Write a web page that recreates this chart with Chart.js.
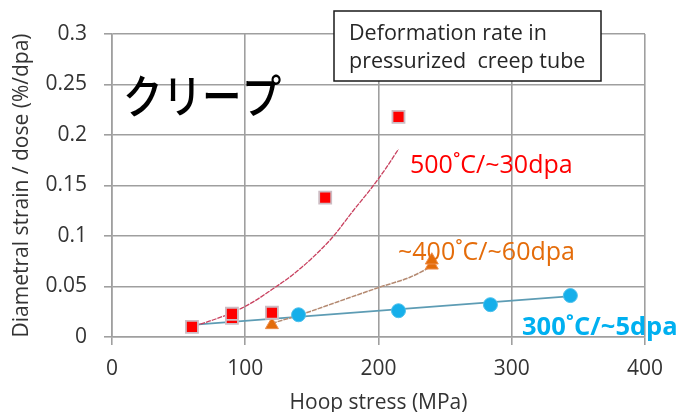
<!DOCTYPE html>
<html><head><meta charset="utf-8">
<script src="https://cdn.jsdelivr.net/npm/chart.js@4.4.1/dist/chart.umd.min.js"></script>
<style>html,body{margin:0;padding:0;background:#fff}#wrap{width:681px;height:412px;position:relative}canvas{display:block}</style>
</head><body><div id="wrap"><canvas id="c" width="681" height="412" style="width:681px;height:412px"></canvas></div>
<script>
const xTickLabels = ['0','100','200','300','400'];
const yTickLabels = ['0','0.05','0.1','0.15','0.2','0.25','0.3'];
const red500X = [60, 90, 90, 120, 160, 215];
const red500Y = [0.010, 0.019, 0.023, 0.024, 0.138, 0.218];
const orange400X = [120, 240, 240];
const orange400Y = [0.012, 0.071, 0.076];
const blue300X = [140, 215, 284, 344];
const blue300Y = [0.022, 0.026, 0.032, 0.041];
const red500FitX = [62, 75, 90, 105, 120, 135, 150, 165, 181, 195, 205, 215];
const red500FitY = [0.011, 0.0165, 0.024, 0.034, 0.047, 0.061, 0.078, 0.098, 0.125, 0.148, 0.166, 0.186];
const orange400FitX = [120, 144, 169, 200, 224, 240];
const orange400FitY = [0.0135, 0.0232, 0.0347, 0.0489, 0.0594, 0.070];
const blue300FitX = [60, 345];
const blue300FitY = [0.012, 0.0405];

const toPts = (xs, ys) => xs.map((x, i) => ({x: x, y: ys[i]}));
const FONT = '"Open Sans", "Liberation Sans", sans-serif';

const overlay = {
  id: 'overlay',
  afterDraw(chart) {
    const ctx = chart.ctx;
    ctx.save();
    // legend box
    ctx.fillStyle = '#ffffff';
    ctx.fillRect(334, 11, 267, 70);
    ctx.strokeStyle = '#1a1a1a';
    ctx.lineWidth = 1.5;
    ctx.strokeRect(334, 11, 267, 70);
    ctx.fillStyle = '#262626';
    ctx.font = '21.5px ' + FONT;
    ctx.textBaseline = 'alphabetic';
    ctx.textAlign = 'left';
    ctx.fillText('Deformation rate in', 349, 40);
    ctx.fillText('pressurized  creep tube', 349, 68);
    // Japanese label
    ctx.fillStyle = '#000000';
    ctx.font = '500 46px "Noto Sans CJK JP", sans-serif';
    ctx.save();
    ctx.translate(123, 113);
    ctx.scale(0.86, 1);
    ctx.fillText('クリープ', 0, 0);
    ctx.restore();
    // series labels
    ctx.font = '25px ' + FONT;
    ctx.fillStyle = '#ff0000';
    ctx.fillText('500˚C/~30dpa', 410, 173);
    ctx.fillStyle = '#e46c0a';
    ctx.fillText('~400˚C/~60dpa', 398, 260);
    ctx.font = 'bold 25.5px ' + FONT;
    ctx.fillStyle = '#00b0f0';
    ctx.fillText('300˚C/~5dpa', 522, 335);
    ctx.restore();
  }
};

new Chart(document.getElementById('c'), {
  type: 'scatter',
  data: {
    datasets: [
      {label: '500C', data: toPts(red500X, red500Y), pointStyle: 'rect', pointRadius: 8.5, pointHoverRadius: 8.5,
       backgroundColor: '#ff0000', borderColor: '#cdbcc3', borderWidth: 1.8, showLine: false},
      {label: '400C', data: toPts(orange400X, orange400Y), pointStyle: 'triangle', pointRadius: 7.5, pointHoverRadius: 7.5,
       backgroundColor: '#e36c0a', borderColor: '#ee8c4a', borderWidth: 1, showLine: false},
      {label: '300C', data: toPts(blue300X, blue300Y), pointStyle: 'circle', pointRadius: 7, pointHoverRadius: 7,
       backgroundColor: '#16afea', borderColor: '#4cc0ec', borderWidth: 1, showLine: false},
      {label: '500fit', data: toPts(red500FitX, red500FitY), showLine: true, pointRadius: 0, borderColor: '#c8405e',
       borderWidth: 1.3, borderDash: [5, 1], cubicInterpolationMode: 'monotone', fill: false},
      {label: '400fit', data: toPts(orange400FitX, orange400FitY), showLine: true, pointRadius: 0, borderColor: '#b48a72',
       borderWidth: 1.5, borderDash: [5, 1], cubicInterpolationMode: 'monotone', fill: false},
      {label: '300fit', data: toPts(blue300FitX, blue300FitY), showLine: true, pointRadius: 0, borderColor: '#5d9cb4',
       borderWidth: 1.6, fill: false}
    ]
  },
  options: {
    responsive: false,
    animation: false,
    devicePixelRatio: 1,
    layout: {padding: {left: 0, right: 36, top: 34, bottom: 0}},
    plugins: {legend: {display: false}, tooltip: {enabled: false}, title: {display: false}},
    scales: {
      x: {
        type: 'linear', min: 0, max: 400,
        afterFit(s) { s.height = 75; },
        afterBuildTicks(s) { s.ticks = xTickLabels.map(v => ({value: Number(v)})); },
        ticks: {callback: (v, i) => xTickLabels[i], color: '#333333', padding: 11,
                font: {family: FONT, size: 21}, maxRotation: 0},
        grid: {color: '#9f9f9f', lineWidth: 1.6, tickLength: 8, drawTicks: true},
        border: {display: true, color: '#9f9f9f', width: 1.6},
        title: {display: true, text: 'Hoop stress (MPa)', color: '#333333',
                font: {family: FONT, size: 21}, padding: {top: 0, bottom: -4}}
      },
      y: {
        type: 'linear', min: 0, max: 0.3,
        afterFit(s) { s.width = 112; },
        afterBuildTicks(s) { s.ticks = yTickLabels.map(v => ({value: Number(v)})); },
        ticks: {callback: (v, i) => yTickLabels[i], color: '#333333', padding: 17,
                font: {family: FONT, size: 21}},
        grid: {color: '#9f9f9f', lineWidth: 1.6, tickLength: 8, drawTicks: true},
        border: {display: true, color: '#9f9f9f', width: 1.6},
        title: {display: true, text: 'Diametral strain / dose (%/dpa)', color: '#333333',
                font: {family: FONT, size: 21}, padding: {top: 9, bottom: 0}}
      }
    }
  },
  plugins: [overlay]
});
</script></body></html>
